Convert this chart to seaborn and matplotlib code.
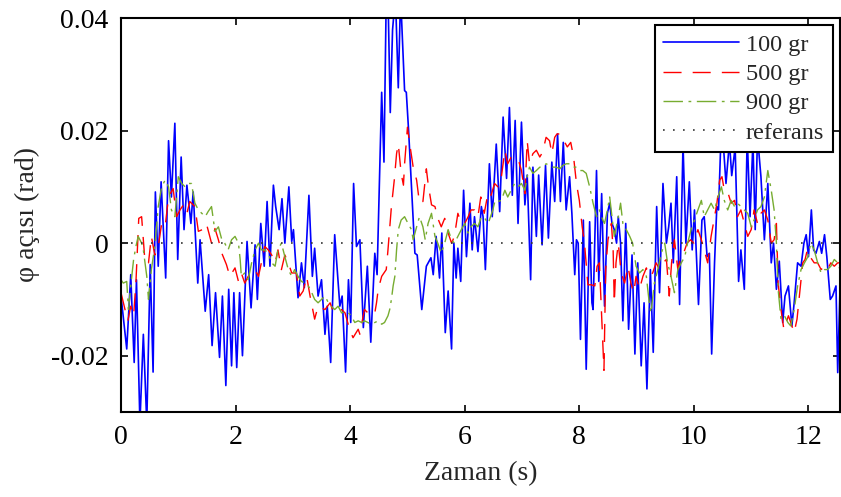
import numpy as np
import pandas as pd
import matplotlib
matplotlib.use("Agg")
import matplotlib.pyplot as plt
import seaborn as sns

# zaman (s) ve aci degerleri (mrad)
t_100 = [0.00, 0.10, 0.17, 0.23, 0.27, 0.33, 0.39, 0.45, 0.51, 0.56, 0.60, 0.65, 0.70, 0.78, 0.83, 0.88,
         0.94, 0.99, 1.05, 1.10, 1.15, 1.22, 1.26, 1.34, 1.38, 1.47, 1.53, 1.59, 1.65, 1.72, 1.77, 1.83,
         1.88, 1.93, 1.97, 2.02, 2.07, 2.12, 2.20, 2.27, 2.34, 2.38, 2.44, 2.50, 2.55, 2.60, 2.66, 2.70,
         2.76, 2.81, 2.86, 2.93, 2.98, 3.01, 3.09, 3.15, 3.20, 3.28, 3.34, 3.38, 3.44, 3.50, 3.56, 3.60,
         3.66, 3.73, 3.82, 3.86, 3.92, 3.97, 4.01, 4.06, 4.11, 4.17, 4.23, 4.30, 4.36, 4.43, 4.47, 4.55,
         4.59, 4.63, 4.66, 4.70, 4.74, 4.79, 4.84, 4.88, 4.95, 4.98, 5.02, 5.13, 5.17, 5.25, 5.33, 5.41,
         5.45, 5.50, 5.56, 5.60, 5.66, 5.71, 5.77, 5.81, 5.85, 5.88, 5.93, 5.98, 6.03, 6.09, 6.13, 6.17,
         6.23, 6.29, 6.32, 6.36, 6.43, 6.48, 6.55, 6.61, 6.67, 6.73, 6.78, 6.83, 6.88, 6.93, 6.99, 7.05,
         7.09, 7.15, 7.19, 7.25, 7.29, 7.35, 7.41, 7.46, 7.52, 7.57, 7.62, 7.67, 7.72, 7.77, 7.83, 7.87,
         7.92, 7.95, 7.98, 8.02, 8.07, 8.12, 8.18, 8.22, 8.24, 8.30, 8.34, 8.39, 8.44, 8.49, 8.53, 8.57,
         8.61, 8.65, 8.68, 8.72, 8.76, 8.81, 8.86, 8.92, 8.97, 9.02, 9.08, 9.13, 9.18, 9.24, 9.29, 9.35,
         9.40, 9.46, 9.52, 9.56, 9.60, 9.64, 9.70, 9.75, 9.81, 9.86, 9.92, 9.97, 10.01, 10.08, 10.14, 10.18,
         10.23, 10.27, 10.31, 10.36, 10.40, 10.43, 10.47, 10.50, 10.56, 10.62, 10.66, 10.72, 10.78, 10.82,
         10.88, 10.93, 10.98, 11.03, 11.07, 11.11, 11.17, 11.23, 11.29, 11.35, 11.39, 11.44, 11.49, 11.55,
         11.59, 11.65, 11.71, 11.75, 11.81, 11.87, 11.92, 11.96, 12.00, 12.05, 12.09, 12.13, 12.19, 12.23,
         12.28, 12.32, 12.38, 12.42, 12.48, 12.51, 12.55]
phi_100 = [-9.4, -18.8, -5.6, -21.2, -6.5, -32, -16.2, -32, -3.8, -22.9, 9.1, -4.1, 10.9, -6.2, 18.2, 8.2,
           21.3, -2.9, 15.3, 2.4, 10.3, 3.5, 9.1, -7.1, 0.6, -12.1, -5.6, -18.2, -8.8, -20.3, -9.4, -25.3,
           -8.2, -21.8, -8.8, -22.1, -8.8, -20.0, 0.3, -11.5, -0.3, -10.0, 3.5, -4.1, 7.4, -4.1, 10.3, 6.5,
           2.4, 7.9, 0.0, 10.0, 0.3, 2.4, -9.7, -3.5, -7.9, 8.5, -5.9, -0.9, -9.4, -6.5, -16.2, -11.2,
           -21.2, 1.5, -11.2, -9.4, -22.9, -6.5, -14.1, 10.6, -0.6, 0.6, -15.0, -4.1, -17.6, -1.8, -5.6, 26.8,
           14.4, 44, 44, 23.2, 37.9, 44, 27.6, 44, 27.1, 26.8, 20.0, -1.8, -2.1, -11.8, -4.1, -2.6,
           -5.6, 1.2, -6.2, 1.8, -15.9, -8.5, -18.8, 0.0, -6.2, -0.9, -6.8, 9.4, -2.4, 7.1, -1.2, 4.7,
           -1.5, 6.5, 4.7, -4.7, 14.1, 4.7, 17.6, 5.6, 22.4, 11.5, 24.1, 8.5, 21.8, 3.5, 21.5, 6.8,
           12.1, -6.5, 13.5, 1.2, 12.1, -0.3, 13.8, 0.9, 14.4, 7.4, 19.4, 7.4, 17.9, 5.9, 11.8, 5.3,
           -5.6, 0.6, 0.0, -17.1, 4.1, -22.4, 3.8, -10.6, -11.8, 12.9, -6.8, 8.8, -11.2, 5.3, 7.1, 3.5,
           2.4, 0.0, 4.7, 0.0, -13.8, 3.5, -15.3, -2.1, -19.7, -3.5, -21.8, -10.6, -25.9, -4.7, -19.4, 6.5,
           -8.8, 10.6, 0.0, 2.9, 7.1, -3.5, 11.8, -10.9, 17.6, 0.0, 10.9, -1.2, 5.9, -10.9, 4.1, 4.7,
           -2.4, -1.8, -19.7, -3.5, 6.5, 5.9, 18.2, 19.5, 10.6, 18.0, 12.0, 17.0, -6.8, -1.2,
           -8.2, 19.0, 4.7, 18.0, 2.4, 19.0, 11.8, 0.6, 10.6, -3.5, 0.0, -8.2, -3.2, -14.1,
           -9.4, -7.6, -14.7, -10.6, -3.5, -4.1, 0.0, 1.5, -2.4, 5.9, -1.2, -1.8, 0.3, -1.8,
           1.5, -2.4, -10.0, -9.4, -7.6, -23.0, -8.2]

t_500 = [0.00, 0.07, 0.12, 0.17, 0.22, 0.26, 0.31, 0.36, 0.42, 0.48, 0.53, 0.59, 0.65, 0.71, 0.77, 0.83,
         0.91, 0.97, 1.03, 1.09, 1.15, 1.20, 1.29, 1.35, 1.42, 1.49, 1.58, 1.64, 1.70, 1.76, 1.84, 1.90,
         1.99, 2.05, 2.10, 2.16, 2.22, 2.28, 2.34, 2.40, 2.45, 2.51, 2.57, 2.63, 2.69, 2.74, 2.80, 2.86,
         2.92, 2.98, 3.06, 3.12, 3.18, 3.24, 3.30, 3.38, 3.44, 3.50, 3.56, 3.65, 3.70, 3.79, 3.85, 3.91,
         3.99, 4.05, 4.14, 4.17, 4.20, 4.25, 4.31, 4.37, 4.43, 4.46, 4.49, 4.55, 4.63, 4.66, 4.72, 4.77,
         4.81, 4.84, 4.89, 4.93, 4.95, 5.00, 5.04, 5.10, 5.16, 5.21, 5.27, 5.33, 5.36, 5.42, 5.48, 5.53,
         5.59, 5.65, 5.71, 5.77, 5.82, 5.88, 5.94, 6.00, 6.06, 6.11, 6.17, 6.23, 6.28, 6.34, 6.41, 6.46,
         6.52, 6.58, 6.64, 6.70, 6.75, 6.81, 6.87, 6.93, 6.99, 7.05, 7.09, 7.13, 7.19, 7.25, 7.31, 7.36,
         7.42, 7.48, 7.52, 7.57, 7.61, 7.67, 7.73, 7.79, 7.85, 7.90, 7.95, 8.00, 8.05, 8.09, 8.15, 8.21,
         8.27, 8.31, 8.35, 8.39, 8.43, 8.46, 8.50, 8.56, 8.59, 8.61, 8.64, 8.68, 8.73, 8.79, 8.85, 8.90,
         8.95, 8.99, 9.05, 9.11, 9.17, 9.22, 9.28, 9.34, 9.40, 9.46, 9.52, 9.57, 9.61, 9.66, 9.72, 9.77,
         9.82, 9.88, 9.94, 10.00, 10.07, 10.13, 10.18, 10.24, 10.30, 10.36, 10.40, 10.45, 10.49, 10.53,
         10.59, 10.65, 10.71, 10.76, 10.82, 10.88, 10.94, 11.00, 11.05, 11.11, 11.17, 11.23, 11.29, 11.35,
         11.40, 11.44, 11.47, 11.52, 11.57, 11.61, 11.65, 11.71, 11.75, 11.80, 11.86, 11.90, 11.94, 11.98,
         12.04, 12.10, 12.16, 12.22, 12.28, 12.33, 12.39, 12.45, 12.51, 12.55]
phi_500 = [-8.8, -11.8, -13.8, -11.2, -12.9, -7.1, 4.4, 4.7, -3.5, -3.5, 1.2, -2.1, -0.6, 3.5, 2.9, 8.2,
           9.7, 4.7, 5.9, 6.8, 5.3, 7.4, 6.5, 2.1, 2.4, 3.5, 0.0, 2.6, 0.6, -1.8, -3.8, -5.9,
           -4.4, -6.8, -5.3, -7.1, -5.9, -5.3, -4.7, -5.9, -3.5, -0.6, -1.2, -2.1, -3.5, -1.2, -4.7, -2.1,
           -3.5, -5.3, -5.3, -9.4, -8.5, -5.9, -9.4, -13.5, -11.2, -11.5, -11.8, -10.6, -12.1, -12.4, -11.8, -12.4,
           -15.3, -16.8, -15.3, -16.2, -14.4, -11.8, -12.4, -12.9, -12.4, -10.6, -8.2, -5.9, -4.7, -1.2, 6.5, 11.2,
           15.9, 17.6, 12.4, 10.3, 14.1, 20.6, 17.6, 13.5, 11.2, 7.1, 7.4, 13.2, 10.6, 6.8, 6.5, 4.4,
           2.9, 4.4, 1.8, 0.0, 1.2, 5.3, 3.5, 3.5, 4.7, 5.9, 5.9, 4.7, 8.2, 5.3, 9.1, 8.5,
           10.6, 10.0, 11.8, 16.5, 14.1, 15.3, 15.3, 15.0, 12.9, 8.8, 18.2, 14.1, 15.9, 16.5, 15.3, 16.2,
           18.8, 18.2, 15.9, 18.8, 19.4, 19.4, 18.2, 17.1, 17.9, 15.3, 10.6, 7.6, 2.9, 0.0, -7.4, -7.4,
           -7.6, -4.1, -3.5, -13.0, -22.6, -4.7, 0.6, 3.5, -1.2, -10.6, -3.5, 0.0, -5.3, -7.1, -4.1, -7.1,
           -8.8, -5.9, -8.2, -5.9, -4.4, -5.9, -5.3, -3.5, -4.7, -3.5, -2.9, -9.4, -3.5, 0.6, -4.7, -2.4,
           -1.8, 0.0, 0.6, 0.0, 2.4, 0.6, -1.2, -3.5, 1.2, 4.7, 7.0, 11.2, 11.8, 9.4,
           9.1, 7.1, 7.6, 4.7, 5.9, 3.5, 1.2, 2.4, 5.9, 3.5, 5.3, 5.9, 4.1, 0.0,
           0.6, 3.5, -7.1, -11.8, -15.3, -14.1, -12.9, -14.7, -15.9, -13.5, -7.6, -3.5, -2.9, -1.2,
           -2.6, -3.5, -3.5, -4.7, -4.1, -4.7, -3.5, -4.1, -3.5, -3.5]

t_900 = [0.00, 0.04, 0.10, 0.13, 0.17, 0.22, 0.26, 0.30, 0.36, 0.39, 0.45, 0.48, 0.53, 0.59, 0.65, 0.71,
         0.77, 0.83, 0.88, 0.94, 1.00, 1.06, 1.12, 1.17, 1.23, 1.29, 1.35, 1.41, 1.47, 1.52, 1.58, 1.64,
         1.70, 1.76, 1.81, 1.87, 1.93, 1.99, 2.05, 2.08, 2.10, 2.16, 2.22, 2.28, 2.34, 2.40, 2.45, 2.51,
         2.57, 2.63, 2.69, 2.74, 2.80, 2.86, 2.92, 2.98, 3.03, 3.09, 3.15, 3.21, 3.27, 3.33, 3.38, 3.44,
         3.50, 3.56, 3.62, 3.67, 3.73, 3.79, 3.85, 3.91, 3.97, 4.02, 4.08, 4.14, 4.20, 4.25, 4.31, 4.37,
         4.43, 4.49, 4.55, 4.60, 4.66, 4.69, 4.72, 4.75, 4.78, 4.81, 4.84, 4.89, 4.95, 5.01, 5.07, 5.10,
         5.16, 5.21, 5.27, 5.31, 5.36, 5.42, 5.48, 5.53, 5.59, 5.65, 5.71, 5.77, 5.82, 5.88, 5.94, 6.00,
         6.06, 6.11, 6.17, 6.23, 6.29, 6.35, 6.41, 6.45, 6.49, 6.53, 6.58, 6.64, 6.70, 6.75, 6.81, 6.87,
         6.93, 6.99, 7.05, 7.09, 7.13, 7.19, 7.25, 7.31, 7.36, 7.42, 7.48, 7.54, 7.60, 7.66, 7.71, 7.77,
         7.83, 7.89, 7.95, 8.00, 8.06, 8.12, 8.18, 8.24, 8.30, 8.35, 8.41, 8.44, 8.49, 8.53, 8.57, 8.61,
         8.67, 8.72, 8.76, 8.82, 8.88, 8.93, 8.99, 9.05, 9.11, 9.17, 9.22, 9.25, 9.31, 9.37, 9.43, 9.49,
         9.54, 9.60, 9.66, 9.72, 9.78, 9.84, 9.89, 9.95, 10.01, 10.07, 10.13, 10.18, 10.24, 10.30, 10.36, 10.42,
         10.48, 10.53, 10.59, 10.65, 10.71, 10.76, 10.82, 10.88, 10.94, 11.00, 11.05, 11.11, 11.17, 11.23,
         11.29, 11.35, 11.40, 11.44, 11.47, 11.52, 11.58, 11.64, 11.69, 11.75, 11.81, 11.87, 11.93, 11.99,
         12.04, 12.10, 12.16, 12.22, 12.28, 12.33, 12.39, 12.45, 12.51, 12.55]
phi_900 = [-6.5, -7.1, -6.8, -11.8, -7.6, -2.9, -0.6, 1.2, 0.0, -1.2, -5.9, -10.0, -4.7, -0.6, 6.5, 10.0,
           11.2, 10.0, 5.9, 4.7, 11.8, 10.6, 10.0, 10.6, 10.6, 7.1, 5.9, 5.3, 4.7, 5.6, 6.5, 2.1,
           2.9, 0.6, 0.0, -1.2, 0.6, 1.2, 0.0, -2.9, -5.9, -5.3, -6.5, -3.5, -1.2, 0.0, -1.2, -1.2,
           -1.8, -3.5, -4.1, -1.2, 0.0, -2.4, -4.7, -5.9, -4.7, -5.9, -6.8, -7.1, -7.6, -8.8, -10.0, -10.6,
           -10.0, -9.4, -10.6, -11.2, -11.8, -11.2, -12.4, -12.1, -12.4, -12.9, -14.1, -13.8, -14.1, -13.8, -14.1, -14.4,
           -14.1, -13.8, -14.4, -14.1, -12.9, -11.8, -10.0, -7.6, -5.9, -1.2, 2.4, 4.1, 4.7, 3.5, 2.4, 0.6,
           2.9, 4.7, 2.9, 0.6, 3.5, 5.3, 1.2, 0.0, -1.8, 0.0, 2.4, 0.6, 0.0, 1.2, 2.4, 3.5,
           1.8, 2.9, 3.5, 2.9, 4.7, 4.4, 3.5, 4.7, 5.9, 7.6, 7.4, 7.6, 9.4, 8.2, 9.4, 10.6,
           10.0, 10.6, 9.4, 11.8, 13.5, 12.4, 12.9, 13.5, 13.5, 14.1, 13.8, 13.5, 13.5, 13.2, 13.8, 14.1,
           14.1, 13.5, 13.5, 12.9, 12.9, 12.4, 10.0, 7.1, 4.7, 5.9, 4.1, 3.5, 5.9, 8.2, 4.7, 1.2,
           4.1, 7.1, 3.5, 2.4, 1.2, 0.0, -4.1, -5.3, -4.7, -5.9, -10.6, -12.4, -7.1, -4.7, -1.8, 0.0,
           -3.5, -5.9, -8.8, -4.7, -3.5, -2.4, 0.0, 2.4, 4.1, 5.9, 7.6, 4.7, 5.9, 7.1, 5.9, 8.2,
           10.0, 7.6, 5.9, 7.6, 6.5, 7.1, 6.5, 5.9, 5.3, 2.9, 4.1, 5.9, 6.5, 8.2,
           12.9, 9.4, 5.9, 0.0, -8.2, -13.5, -12.9, -14.1, -14.7, -11.8, -7.6, -4.7, -3.5, -2.4,
           0.0, -1.2, -3.5, -5.3, -4.7, -4.7, -4.1, -2.9, -3.5, -4.7]

t_ref = [0.0, 12.55]
phi_ref = [0.0, 0.0]

labels = ["100 gr", "500 gr", "900 gr", "referans"]
colors = ["#0000ff", "#ff0000", "#77ac30", "#333333"]

sns.set_style("ticks")
plt.rcParams["font.family"] = ["Liberation Serif", "DejaVu Serif"]
plt.rcParams["axes.unicode_minus"] = False

fig = plt.figure(figsize=(8.41, 4.97), dpi=100)
ax = fig.add_axes([121 / 841, 1 - 412 / 497, 719 / 841, 394 / 497])

series = [(t_100, phi_100, "-", 1.2),
          (t_500, phi_500, (0, (13, 8)), 1.0),
          (t_900, phi_900, (0, (14, 4, 2, 4)), 1.0)]
for (tt, pp, ls, lw), lab, col in zip(series, labels, colors):
    sns.lineplot(x=np.array(tt), y=np.array(pp) / 1000.0, ax=ax, color=col,
                 linestyle=ls, linewidth=lw, label=lab, estimator=None, sort=False)
sns.lineplot(x=t_ref, y=phi_ref, ax=ax, color=colors[3], linestyle=(0, (1, 5)),
             linewidth=1.2, label=labels[3], estimator=None, sort=False)

ax.set_xlim(0, 12.55)
ax.set_ylim(-0.03, 0.04)
ax.set_xticks([0, 2, 4, 6, 8, 10, 12])
ax.set_yticks([-0.02, 0, 0.02, 0.04])
ax.set_yticklabels(["-0.02", "0", "0.02", "0.04"])
ax.tick_params(direction="in", top=True, right=True, length=5, width=1.2,
               labelsize=20, colors="black")
ax.tick_params(axis="x", pad=9)
ax.tick_params(axis="y", pad=9)
for sp in ax.spines.values():
    sp.set_visible(True)
    sp.set_linewidth(1.5)
    sp.set_color("black")

ax.set_xlabel("Zaman (s)", fontsize=20, labelpad=8)
ax.set_ylabel("φ açısı (rad)", fontsize=20, labelpad=8)

leg = ax.legend(loc="upper right", fontsize=17.5, frameon=True, fancybox=False,
                edgecolor="black", framealpha=1, handlelength=3.1,
                handletextpad=0.3, borderaxespad=0.3, labelspacing=0.3, borderpad=0.35)
leg.get_frame().set_linewidth(1.5)

fig.savefig("out.png", dpi=100)
